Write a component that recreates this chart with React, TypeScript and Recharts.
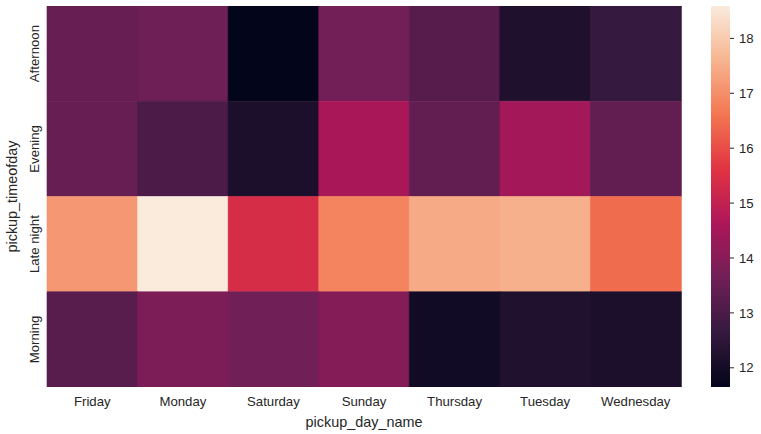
import { BarChart, Bar, XAxis, YAxis, Cell, Label } from "recharts";

const days = ["Friday", "Monday", "Saturday", "Sunday", "Thursday", "Tuesday", "Wednesday"];
const timesOfDay = ["Afternoon", "Evening", "Late night", "Morning"];

// mean values per pickup day, one array per time of day
const afternoon = [13.47, 13.58, 11.65, 13.66, 13.21, 12.21, 12.66];
const evening = [13.47, 13.03, 12.13, 14.58, 13.4, 14.46, 13.41];
const lateNight = [17.13, 18.59, 15.39, 16.83, 17.44, 17.54, 16.46];
const morning = [13.23, 13.84, 13.65, 13.96, 11.95, 12.23, 12.13];

const colorTicks = [12, 13, 14, 15, 16, 17, 18];

const seriesByTime = [afternoon, evening, lateNight, morning];
const allValues = seriesByTime.flat();
const vmin = Math.min(...allValues);
const vmax = Math.max(...allValues);

const rows = days.map((day, i) => {
  const row: Record<string, any> = { day };
  timesOfDay.forEach((t, j) => {
    row[t] = seriesByTime[j][i];
  });
  return row;
});

const colorbarData = [{ name: "scale", range: [vmin, vmax] }];

// seaborn "rocket" colormap stops
const ROCKET: [number, number[]][] = [
  [0, [3, 5, 26]],
  [1 / 7, [53, 25, 62]],
  [2 / 7, [112, 31, 87]],
  [3 / 7, [173, 23, 89]],
  [4 / 7, [225, 51, 66]],
  [5 / 7, [243, 118, 81]],
  [6 / 7, [246, 180, 143]],
  [1, [250, 235, 221]],
];

function rocket(t: number) {
  const c = Math.max(0, Math.min(1, t));
  for (let i = 1; i < ROCKET.length; i++) {
    const [p1, c1] = ROCKET[i];
    const [p0, c0] = ROCKET[i - 1];
    if (c <= p1) {
      const f = (c - p0) / (p1 - p0);
      const rgb = c0.map((v, k) => Math.round(v + (c1[k] - v) * f));
      return `rgb(${rgb[0]},${rgb[1]},${rgb[2]})`;
    }
  }
  return "rgb(250,235,221)";
}

const colorFor = (v: number) => rocket((v - vmin) / (vmax - vmin));

// each cell is one unit tall in the stacked layout
const unitKeys = timesOfDay.map(() => () => 1);

const FONT = '"Liberation Sans", Arial, sans-serif';
const TEXT = "#262626";

function RowTick(props: any) {
  const { y, payload } = props;
  const x = 39;
  const label = timesOfDay[Math.floor(payload.value)];
  return (
    <text
      x={x}
      y={y}
      transform={`rotate(-90 ${x} ${y})`}
      textAnchor="middle"
      fill={TEXT}
      fontSize={13.2}
      fontFamily={FONT}
    >
      {label}
    </text>
  );
}

export default function App() {
  return (
    <div
      style={{
        position: "absolute",
        left: 0,
        top: 0,
        width: 761,
        height: 434,
        background: "#fff",
        fontFamily: FONT,
      }}
    >
      <div style={{ position: "absolute", left: 0, top: 0 }}>
        <BarChart
          width={700}
          height={434}
          data={rows}
          margin={{ top: 6, right: 19, bottom: 0, left: 0 }}
          barCategoryGap={0}
          barGap={0}
        >
          <XAxis
            dataKey="day"
            height={47}
            tickLine={false}
            axisLine={false}
            tickMargin={4}
            interval={0}
            tick={{ fill: TEXT, fontSize: 13.2, fontFamily: FONT }}
          >
            <Label
              value="pickup_day_name"
              position="insideBottom"
              offset={7}
              fill={TEXT}
              fontSize={14.4}
              fontFamily={FONT}
            />
          </XAxis>
          <YAxis
            type="number"
            width={47}
            domain={[0, 4]}
            reversed
            allowDataOverflow
            ticks={[0.5, 1.5, 2.5, 3.5]}
            tickLine={false}
            axisLine={false}
            tick={<RowTick />}
          >
            <Label
              value="pickup_timeofday"
              angle={-90}
              position="insideLeft"
              offset={12}
              fill={TEXT}
              fontSize={14.4}
              fontFamily={FONT}
              style={{ textAnchor: "middle" }}
            />
          </YAxis>
          {timesOfDay.map((t, j) => (
            <Bar
              key={t}
              dataKey={unitKeys[j]}
              stackId="cells"
              isAnimationActive={false}
            >
              {rows.map((r) => (
                <Cell
                  key={r.day}
                  fill={colorFor(r[t])}
                  stroke={colorFor(r[t])}
                  strokeWidth={0.6}
                />
              ))}
            </Bar>
          ))}
        </BarChart>
      </div>
      <div style={{ position: "absolute", left: 700, top: 0 }}>
        <BarChart
          width={61}
          height={434}
          data={colorbarData}
          margin={{ top: 6, right: 0, bottom: 47, left: 11 }}
          barCategoryGap={0}
        >
          <defs>
            <linearGradient id="rocketScale" x1="0" y1="1" x2="0" y2="0">
              {ROCKET.map(([p]) => (
                <stop key={p} offset={p} stopColor={rocket(p)} />
              ))}
            </linearGradient>
          </defs>
          <XAxis dataKey="name" hide />
          <YAxis
            type="number"
            orientation="right"
            width={31}
            domain={[vmin, vmax]}
            allowDataOverflow
            ticks={colorTicks}
            axisLine={false}
            tickSize={4}
            tickMargin={5}
            tickLine={{ stroke: TEXT, strokeWidth: 1 }}
            tick={{ fill: TEXT, fontSize: 13.2, fontFamily: FONT }}
          />
          <Bar dataKey="range" fill="url(#rocketScale)" isAnimationActive={false} />
        </BarChart>
      </div>
    </div>
  );
}
